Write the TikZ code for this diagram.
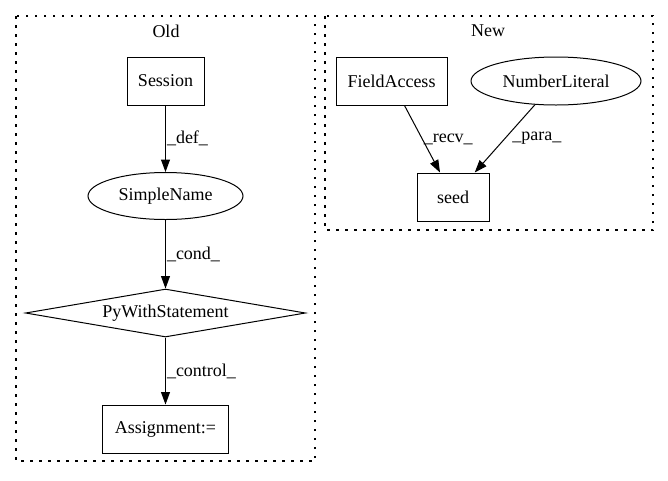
\documentclass[tikz,border=0pt]{standalone}
\usepackage{fontspec}
\setmainfont{Liberation Serif}
\usetikzlibrary{shapes.geometric,arrows.meta}

\tikzset{
    caja/.style={draw, line width=1pt, inner sep=0pt, minimum height=48pt},
    elipse/.style={draw, ellipse, line width=1pt, inner sep=0pt, minimum height=47pt},
    rombo/.style={draw, diamond, aspect=5.8, line width=1pt, inner sep=0pt,
                  minimum width=280pt, minimum height=48pt},
    arista/.style={line width=1pt, -{Triangle[length=12.5pt, width=9pt]}},
    rotulo/.style={inner sep=1pt},
    grupo/.style={line width=1.3pt, dash pattern=on 2.5pt off 6.5pt}
}

\begin{document}
\begin{tikzpicture}[x=1pt, y=-1pt, font=\fontsize{18}{21}\selectfont]

    \useasboundingbox (0,0) rectangle (668,480);

    % Grupos
    \draw[grupo] (16,16) rectangle (315,461);
    \draw[grupo] (325,16) rectangle (653,230);
    \node (old) at (166,31) {Old};
    \node (new) at (488,31) {New};

    \node[caja, minimum width=77pt] (session) at (165.5,81) {Session};
    \node[elipse, minimum width=155pt] (simplename) at (165.5,196) {SimpleName};
    \node[rombo] (pywith) at (165.5,313) {PyWithStatement};
    \node[caja, minimum width=126pt] (assignment) at (165.5,429) {Assignment:=};

    \node[caja, minimum width=111pt] (fieldaccess) at (391.5,81) {FieldAccess};
    \node[elipse, minimum width=170pt, minimum height=48pt] (numberliteral) at (556,81) {NumberLiteral};
    \node[caja, minimum width=72pt] (seed) at (453,197) {seed};

    \draw[arista] (session) -- node[rotulo, right] {\_def\_} (simplename);
    \draw[arista] (simplename) -- node[rotulo, right] {\_cond\_} (pywith);
    \draw[arista] (pywith) -- node[rotulo, right] {\_control\_} (assignment);

    \draw[arista] (fieldaccess) -- node[rotulo, right] {\_recv\_} (seed);
    \draw[arista] (numberliteral) -- node[rotulo, right=6pt] {\_para\_} (seed);

\end{tikzpicture}
\end{document}
